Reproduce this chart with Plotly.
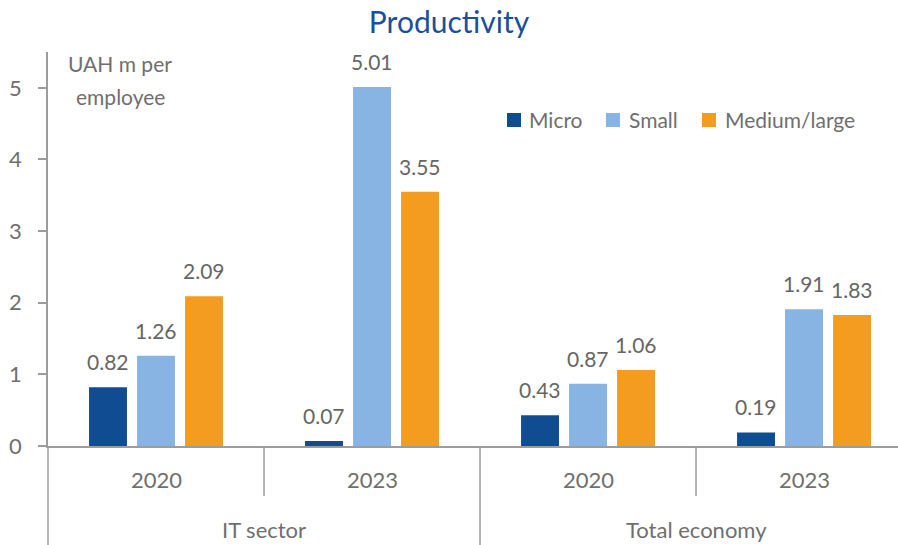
import plotly.graph_objects as go

sectors = ["IT sector", "IT sector", "Total economy", "Total economy"]
years = ["2020", "2023", "2020", "2023"]
series_names = ["Micro", "Small", "Medium/large"]
micro = [0.82, 0.07, 0.43, 0.19]
small = [1.26, 5.01, 0.87, 1.91]
medium = [2.09, 3.55, 1.06, 1.83]
y_ticks = [0, 1, 2, 3, 4, 5]
y_title = ["UAH m per", "employee"]

colors = ["#0F4C92", "#88B4E3", "#F39C1F"]
values = [micro, small, medium]
FONT = "Lato"
GREY = "#6f6f6f"
LINE = "#9c9c9c"

W, H = 898, 545
ML, MR, MT, MB = 48, 0, 52, 99
PW, PH = W - ML - MR, H - MT - MB
BARGAP, GROUPGAP = 1 / 3, 0.21
XR = [-0.5, 3.435]
span = XR[1] - XR[0]
YR = [0, 5.5]

def xp(u):  # axis units -> paper
    return (u - XR[0]) / span

def ypx(px):  # pixels below plot bottom -> paper
    return -px / PH

fig = go.Figure()
for name, vals, col in zip(series_names, values, colors):
    fig.add_trace(go.Bar(x=[sectors, years], y=vals, name=name, marker_color=col,
                         marker_line_width=0, showlegend=False))

annotations = []
# value labels
slot = (1 - BARGAP) / 3
for j, vals in enumerate(values):
    for i, v in enumerate(vals):
        annotations.append(dict(text=f"{v:.2f}", x=xp(i + (j - 1) * slot), xref="paper",
                                y=v, yref="y", yanchor="bottom", xanchor="center", yshift=11,
                                showarrow=False, font=dict(size=21, color="#666666", family=FONT)))
# category labels
for i, yr in enumerate(years):
    annotations.append(dict(text=yr, x=xp(i), xref="paper", y=ypx(33), yref="paper",
                            xanchor="center", yanchor="middle", showarrow=False,
                            font=dict(size=22, color=GREY, family=FONT)))
groups = []
for i, s in enumerate(sectors):
    if s not in [g[0] for g in groups]:
        groups.append([s, [i]])
    else:
        [g for g in groups if g[0] == s][0][1].append(i)
for s, idx in groups:
    annotations.append(dict(text=s, x=xp(sum(idx) / len(idx)), xref="paper", y=ypx(83),
                            yref="paper", xanchor="center", yanchor="middle", showarrow=False,
                            font=dict(size=22, color=GREY, family=FONT)))
# y-axis unit label
for k, line in enumerate(y_title):
    annotations.append(dict(text=line, x=(120 - ML) / PW, xref="paper", y=1 - (12 + 33 * k) / PH,
                            yref="paper", xanchor="center", yanchor="middle", showarrow=False,
                            font=dict(size=21, color=GREY, family=FONT)))

shapes = []
# dividers
for b in [0.5, 2.5]:
    shapes.append(dict(type="line", xref="paper", yref="paper", x0=xp(b), x1=xp(b),
                       y0=0, y1=ypx(50), line=dict(color=LINE, width=1.5)))
for b in [-0.5, 1.5]:
    shapes.append(dict(type="line", xref="paper", yref="paper", x0=xp(b), x1=xp(b),
                       y0=0, y1=ypx(MB + 2), line=dict(color=LINE, width=1.5)))

# legend (manual, to match spacing)
leg_items = [(507, 527), (606, 627), (702, 723)]
for (sx, tx), name, col in zip(leg_items, series_names, colors):
    shapes.append(dict(type="rect", xref="paper", yref="paper",
                       x0=(sx - ML) / PW, x1=(sx + 14 - ML) / PW,
                       y0=(H - MB - 127) / PH, y1=(H - MB - 113) / PH,
                       fillcolor=col, line=dict(width=0)))
    annotations.append(dict(text=name, x=(tx - ML) / PW, xref="paper", y=(H - MB - 120) / PH,
                            yref="paper", xanchor="left", yanchor="middle", showarrow=False,
                            font=dict(size=21, color=GREY, family=FONT)))

fig.update_layout(
    width=W, height=H,
    margin=dict(l=ML, r=MR, t=MT, b=MB),
    plot_bgcolor="white", paper_bgcolor="white",
    barmode="group", bargap=BARGAP, bargroupgap=GROUPGAP,
    title=dict(text="Productivity", x=0.5, xanchor="center", y=1 - 22 / H, yanchor="middle",
               font=dict(size=30, color="#1B4F9B", family=FONT)),
    font=dict(family=FONT, color=GREY, size=21),
    showlegend=False,
    xaxis=dict(type="multicategory", range=XR, showline=True, linecolor=LINE, linewidth=1.5,
               showdividers=False, showticklabels=False, ticks="", showgrid=False),
    yaxis=dict(range=YR, tickvals=y_ticks, showgrid=False, zeroline=False,
               showline=True, linecolor=LINE, linewidth=1.5, ticks="outside",
               ticklen=8, tickwidth=1.5, tickcolor=LINE, ticklabelstandoff=12,
               tickfont=dict(size=22, color=GREY, family=FONT)),
    annotations=annotations,
    shapes=shapes,
)
fig.write_html("out.html", config={"displayModeBar": False},
               post_script="document.body.style.margin='0';")
